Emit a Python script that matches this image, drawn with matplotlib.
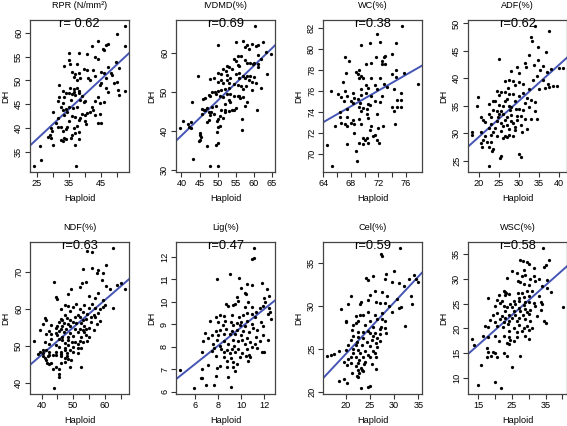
import numpy as np
import matplotlib
matplotlib.use("Agg")
import matplotlib.pyplot as plt

plt.rcParams["font.family"] = ["Liberation Sans", "DejaVu Sans"]

# panel titles, correlation labels and fitted lines (slope, intercept)
titles = ["RPR (N/mm²)", "IVDMD(%)", "WC(%)", "ADF(%)",
          "NDF(%)", "Lig(%)", "Cel(%)", "WSC(%)"]
r_labels = ["r= 0.62", "r=0.69", "r=0.38", "r=0.62",
            "r=0.63", "r=0.47", "r=0.59", "r=0.58"]
fits = [(0.629, 21.98), (0.894, 3.12), (0.376, 48.94), (0.658, 16.2),
        (0.743, 17.87), (0.41, 4.76), (0.60, 12.43), (0.601, 7.67)]

# axis ticks (major = labelled, minor = unlabelled marks)
x_ticks = [[25, 35, 45], [40, 45, 50, 55, 60, 65], [64, 68, 72, 76], [20, 25, 30, 35, 40],
           [40, 50, 60], [6, 8, 10, 12], [20, 25, 30, 35], [15, 25, 35]]
x_minor = [[30, 40, 50], [], [66, 70, 74], [], [45, 55, 65], [], [], [20, 30, 40]]
y_ticks = [[35, 40, 45, 50, 55, 60], [30, 40, 50, 60], [70, 72, 74, 76, 78, 80, 82],
           [25, 30, 35, 40, 45, 50], [40, 50, 60, 70], [6, 7, 8, 9, 10, 11, 12],
           [20, 25, 30, 35], [10, 15, 20, 25, 30, 35]]

# Haploid (x) vs DH (y) values
rpr = [(52.5, 61.5), (50, 59.7), (52.5, 57.3), (44, 58.2), (42, 57.3), (46.5, 57.5), (47, 57.7),
       (45.5, 56.5), (46, 56.3), (35, 55.8), (38.2, 55.8), (40.5, 55.5), (43, 55), (44, 54.5),
       (49.5, 53.8), (47, 52.8), (35, 54.2), (35.3, 53.5), (33.5, 53), (37.5, 53.5), (39.5, 52.5),
       (40.5, 52.3), (42.5, 52.3), (43, 51), (45, 51.7), (46, 51.5), (48, 51.5), (48.5, 51.2),
       (50.5, 52.6), (46.5, 50.5), (36, 51.8), (37, 51.3), (38, 51.5), (36.5, 50.8), (38.5, 50.5),
       (37.5, 50), (41, 50.5), (41.5, 50), (45, 49.5), (44.5, 49), (46.5, 48.5), (47, 47.6),
       (50, 49.7), (50.3, 48), (50.5, 47), (52.5, 47.8), (49, 49.5), (32, 49), (35.2, 48.5),
       (36.5, 48.2), (37.5, 48.4), (38, 47.8), (36.5, 47.5), (34, 47.4), (33, 47.7), (33.5, 46.5),
       (32, 46.5), (35, 47.3), (36, 47.2), (37, 47), (38, 47.4), (39, 46.7), (38.5, 46),
       (39.5, 45.5), (40, 45.8), (35.5, 46), (31.5, 45.8), (33, 45.2), (32.5, 44.5), (35, 44.5),
       (34, 44), (36.3, 44.3), (37.5, 44.5), (43, 45.8), (44, 46.5), (44.5, 45.3), (46, 45.5),
       (42, 44.5), (42.5, 43.8), (44.5, 43), (43, 42.8), (41.5, 43.5), (40.5, 43.2), (40, 42.8),
       (39, 43), (34.5, 43.5), (33, 43.8), (33.3, 42.7), (30, 43.4), (31.5, 42.2), (31, 41),
       (29.5, 40), (29.8, 39.5), (31.5, 40.3), (32.5, 40.2), (33, 39.5), (34, 39.8), (34.5, 40.3),
       (35, 41.5), (36, 42.5), (37, 42.3), (38, 41.8), (38.5, 42.2), (37.5, 40.5), (36.5, 40),
       (37, 38.9), (38, 39.2), (36, 38.5), (35.5, 38), (33.5, 38), (32.5, 37.5), (33, 37.3),
       (34, 37.7), (38, 37.7), (37, 36.5), (29, 38.5), (28.5, 38.2), (29.5, 38), (30, 36.5),
       (26, 36.3), (26.2, 33.3), (37.2, 32), (24, 32), (44, 41), (44.8, 41.1), (40, 41.5),
       (40.2, 40.8)]

ivdmd = [(60.3, 67), (50, 62), (55, 62.8), (57, 63), (58, 62), (59.5, 62.2), (61, 62), (60.7, 61.8),
         (62.5, 62.8), (57.5, 61.5), (58.5, 61), (55.5, 59.3), (56.5, 59.2), (54.5, 58.5), (55, 58),
         (57.5, 58.2), (59, 57.5), (60, 57.5), (61, 57.2), (59.8, 57.2), (58, 57.5), (61.2, 59.5),
         (64.8, 59.7), (63.2, 60.3), (62, 58.5), (61, 56.5), (55.5, 57), (56, 56.8), (53, 56.3),
         (52.5, 56.8), (51.5, 56), (54, 56), (52.2, 55.3), (50, 55), (49, 53.5), (48, 53.3),
         (44.5, 54), (52.5, 54.3), (51, 54.5), (55, 54.5), (56, 54.8), (57, 54), (58, 54.2),
         (59, 54), (60, 53.8), (56, 53.5), (57.5, 53.5), (58.5, 53), (53.5, 53.5), (52.5, 53.2),
         (51, 53), (50, 52.5), (51.5, 52.3), (53.2, 52.3), (54.5, 52), (55.5, 51.7), (56.5, 51.5),
         (57.8, 51.5), (59.5, 52.5), (60.5, 52.2), (63.5, 54.5), (62, 51), (59.5, 50.5), (57, 50.7),
         (53, 51), (52, 50.8), (51, 50.6), (50.2, 50.2), (49.2, 50), (48.5, 50), (47.5, 49.3),
         (46.5, 48.5), (48, 49), (49.5, 49.5), (50.5, 49), (51.5, 48.8), (52.5, 49.5), (53.5, 49.5),
         (54.5, 49), (55.5, 49), (56.2, 48.5), (57, 48.8), (58, 47.5), (57.5, 46.5), (53, 48),
         (52, 47), (53.5, 47.5), (55, 46), (54.5, 45.5), (51, 45.5), (53, 45.2), (52, 44.8),
         (49.5, 46.5), (48.5, 46.2), (47, 46), (46.5, 45.5), (45.7, 45.8), (46.2, 45.3), (47.5, 45),
         (48.2, 45), (49, 44.5), (47.8, 44.2), (45.8, 44.5), (46, 48.2), (42.8, 47.5), (50.5, 43.8),
         (51.5, 43.5), (50, 43.2), (47.5, 42.8), (49.7, 42.5), (47, 42.3), (40.5, 42.5), (42.5, 42.3),
         (41.8, 41.8), (42, 41), (42.5, 40.8), (39.5, 40.8), (50, 41), (50.5, 41.2), (56.7, 43),
         (60.8, 45.3), (56.7, 40.3), (49.8, 39.8), (45, 39.5), (45.2, 39), (45.5, 38.5), (45, 37.8),
         (44.8, 37.5), (50, 37), (49.5, 36.5), (47, 36.3), (43.2, 33), (48, 31), (50, 31),
         (52, 45.5), (54, 45.3), (56, 49)]

wc = [(75.4, 82.2), (71.8, 81.4), (72.2, 80.6), (69.5, 80.4), (70.8, 80.5), (74.5, 80.5),
      (71.7, 79.2), (67.2, 79.2), (72.8, 79.2), (73, 79.3), (74, 79.5), (67.8, 78.8), (72.5, 78.8),
      (70.2, 78.5), (71, 78.6), (73, 78.5), (72.5, 78.5), (74.6, 78), (69.2, 78), (68.7, 77.8),
      (69, 77.6), (69.5, 77.4), (69.2, 77.2), (67.3, 77.7), (74, 77.6), (75.7, 77.7), (74.5, 77.3),
      (69.8, 77.2), (71, 77.2), (72.3, 77.2), (70.2, 76.5), (70.5, 76.3), (69.5, 76.2), (71.5, 76.5),
      (72.8, 76.6), (73.3, 76.4), (71.8, 76.2), (66.8, 76.8), (65.2, 76), (67.2, 76), (68.3, 75.8),
      (67.5, 75.5), (68.5, 75.3), (69.5, 75.6), (70.2, 75.8), (71, 75.5), (72.5, 75.5), (74.2, 76.2),
      (75.3, 75.8), (77.8, 76.6), (66.2, 75.7), (66.6, 75.4), (67, 75), (68, 75), (68.3, 74.8),
      (69, 75.2), (69.3, 74.8), (70.5, 74.7), (71.5, 75), (72.3, 74.9), (74.7, 75.1), (75.3, 75.1),
      (66.5, 74), (67.5, 74.3), (69.2, 74.5), (69.8, 74.4), (70.3, 74.3), (70.8, 74.6), (69.5, 74.1),
      (70.3, 73.8), (71.8, 73.8), (74.2, 74.1), (74, 74.5), (74.7, 74.5), (75.3, 74.5), (66.5, 73.5),
      (67.5, 73.5), (68.3, 73.2), (69.2, 73.3), (70.5, 73.4), (68, 72.9), (67.2, 72.8), (66.6, 72.9),
      (65.7, 72.6), (67.5, 72.6), (68.5, 72.8), (69.5, 72.8), (71, 72.6), (72, 72.5), (72.7, 72.6),
      (70.8, 72.3), (74.4, 72.8), (68.5, 72), (71.2, 71.7), (69.8, 71.5), (70, 71.3), (70.3, 71.5),
      (71.5, 71.8), (71.8, 71.3), (69.2, 71), (69.7, 70.9), (70.5, 71), (72.1, 71), (67.5, 70.9),
      (64.5, 70.8), (68.7, 70.3), (68.9, 69.3), (65.3, 68.8)]

adf = [(34, 49.6), (37.5, 48.6), (33, 47.5), (33.3, 46.8), (34.8, 45.8), (36.8, 44.8), (32.5, 44.3),
       (25, 43.6), (34.6, 43.4), (31.5, 42.8), (33.8, 42.5), (28, 41.3), (29.5, 42), (31.8, 42),
       (36, 42.2), (37, 41.2), (38, 41.7), (40, 41.9), (41, 41.9), (35.2, 41.5), (30, 41), (34.5, 40.5),
       (26.5, 39.5), (27.5, 39.8), (28.5, 39.5), (30, 39.4), (31, 39), (33.5, 39.8), (36, 39.8),
       (29, 38.8), (27.2, 38.2), (24.5, 37.8), (25.5, 37.6), (26.5, 37.5), (32.5, 38), (35, 38),
       (36.5, 38.2), (38.5, 38.7), (39.5, 38.7), (37.5, 38.5), (37.2, 39), (25, 37), (27.5, 37.2),
       (28.5, 37.1), (31, 37.3), (30, 36.8), (32, 36.5), (27, 36.2), (26.5, 35.9), (23.5, 35.8),
       (24, 35.8), (19.7, 36.7), (29, 35.8), (31.5, 35.6), (33, 36), (34, 35.7), (22.5, 35.3),
       (25, 35.2), (26, 35), (27.5, 35), (28, 34.8), (30, 34.5), (32.5, 34.8), (19.5, 35), (23.5, 34.3),
       (25.5, 34.1), (24.5, 34), (27.7, 34.3), (29.2, 34.5), (31, 34.3), (34, 34), (22.5, 33.5),
       (25, 33.5), (26, 33.6), (28, 33.4), (29.5, 33.2), (23, 33), (24.8, 33), (27, 33), (30.5, 33.1),
       (20.5, 33), (31.5, 32.6), (33, 32.7), (34.5, 32.7), (21, 32.5), (24.5, 32.3), (26.5, 32.5),
       (28, 32.2), (29.5, 32.5), (25.5, 31.9), (23, 31.7), (21.5, 32), (27, 31.6), (28.5, 31.8),
       (29, 31.2), (30.5, 31.6), (22.5, 30.9), (24, 31), (26, 31.3), (27.5, 30.8), (29, 30.6),
       (32, 30.8), (23.5, 30.3), (25.5, 30.5), (30.8, 30.3), (18.3, 30.2), (18.2, 29.7), (20.5, 30.3),
       (21.5, 29.5), (23, 29.7), (24.5, 29.5), (26.5, 29.5), (27.5, 29.7), (28.5, 29.5), (20.5, 28.3),
       (21, 28.8), (22, 28.5), (23, 28.5), (26, 29.2), (27, 29.3), (20.8, 27.6), (22.5, 27.5),
       (23.5, 27.2), (23.3, 26.8), (25.5, 25.8), (25.3, 25.5), (30, 26.3), (30.5, 25.7), (22.5, 24)]

ndf = [(62.5, 76.7), (56, 75.5), (54.5, 75.8), (60.5, 72), (53, 71), (56, 71.2), (58, 70.5),
       (57.5, 69.8), (59.5, 69.8), (59, 68), (43.8, 67.4), (52.8, 67), (54, 67.4), (49.2, 65.5),
       (52, 66), (60.5, 66.2), (64, 66.5), (65, 67), (61.5, 65.5), (66.5, 65.5), (58, 64.5),
       (48.5, 64.2), (44.5, 63.2), (45, 62.8), (55, 63.5), (57, 63), (59.5, 62.5), (51, 61.5),
       (53.5, 61), (56, 61.5), (60, 61.2), (59.5, 60.5), (62.5, 60.3), (47.5, 61.2), (48.5, 60.8),
       (46, 60), (50, 60.5), (52, 60), (55, 60.2), (57, 60.3), (58.5, 60), (49, 59.5), (53, 59.3),
       (58, 59), (54.5, 58.8), (56.5, 58.5), (51.5, 58.5), (47.5, 58.5), (50.5, 58), (52.3, 58),
       (55.5, 58), (57, 57.8), (41, 57.5), (41.5, 57), (46, 57.3), (48, 57.5), (46.5, 57), (49, 57),
       (53, 57), (54, 57.2), (58.5, 56.8), (45.5, 56.5), (47, 56.3), (48.5, 56), (50, 56.5), (51, 56.2),
       (52.5, 56.3), (55.5, 56.5), (57.5, 56), (40.5, 56), (43, 55.8), (45, 55.5), (46.5, 55.3),
       (49, 55.5), (53.5, 55.5), (55, 55), (44.5, 54.8), (46, 54.7), (47.8, 54.5), (50.5, 54.7),
       (52, 54.5), (53, 54.3), (54, 54.5), (56.5, 54.3), (39.5, 54.3), (42.5, 54), (44.5, 53.5),
       (45.5, 54), (47, 53.8), (49, 53.5), (51.5, 53.8), (53.5, 53.8), (41.5, 53.3), (43, 53.2),
       (45, 53), (46.5, 52.5), (48.5, 52.5), (50, 52.8), (52.5, 52.5), (54, 53), (55, 52.5), (43, 52),
       (45.5, 52), (46.5, 51.5), (48.5, 51.5), (52, 51.3), (53, 51), (54.5, 51.3), (37.5, 51.3),
       (41, 51), (42.5, 50.5), (47.5, 50.8), (49.5, 51), (50.5, 51), (48.5, 50.3), (51.5, 50.5),
       (44.5, 50.3), (45.5, 49.7), (47.5, 49.5), (50, 49.7), (51.5, 49.5), (52.5, 49.5), (40.5, 49),
       (41.5, 48.8), (47.5, 48.8), (49, 49), (50, 48.5), (51.5, 48), (42.5, 48.3), (44.5, 48.5),
       (46, 48.5), (48, 48), (39.5, 48.3), (40.5, 48), (42.5, 47.5), (44.5, 47.5), (46, 47.8),
       (39, 47.8), (40.5, 47.3), (42, 47.3), (43.5, 47.5), (48, 47.2), (41, 46.8), (46, 47.2),
       (47.3, 46.8), (48.5, 46.5), (49.3, 46.2), (47.5, 45.7), (41.5, 46.2), (41.8, 45.5), (43, 45.5),
       (42.5, 45), (46, 45.5), (44.5, 44.2), (43.5, 43.7), (45.5, 43.8), (49, 44.3), (52.5, 44.2),
       (45.5, 42.5), (45.5, 41.5), (43.8, 38.5)]

lig = [(11.1, 12.4), (10.9, 11.9), (11.1, 11.95), (9, 11.25), (7.9, 11), (9.8, 11.05), (11.8, 10.85),
       (10.5, 10.8), (10.9, 10.75), (12.2, 10.55), (10, 10.6), (10.3, 10.4), (10.4, 10.35), (9.6, 10.2),
       (12.4, 10.25), (12, 10.15), (9.7, 10.05), (10.6, 10.0), (12.05, 10.0), (9.5, 9.9), (8.7, 9.9),
       (8.9, 9.8), (9.3, 9.85), (10.3, 9.75), (11.3, 9.55), (11.6, 9.7), (10.9, 9.75), (11.9, 9.8),
       (12.4, 9.7), (12.5, 9.55), (10.5, 9.5), (10.9, 9.45), (8.2, 9.4), (7.8, 9.3), (8.5, 9.35),
       (9.2, 9.4), (9.8, 9.3), (10.2, 9.4), (11.2, 9.3), (12.3, 9.45), (12.6, 9.25), (7.3, 9.15),
       (8, 9.1), (8.6, 9.15), (9.1, 9.1), (9.6, 9.05), (10, 9.1), (10.5, 9.15), (10.9, 9.0), (11.7, 9.1),
       (8.4, 8.95), (9.3, 8.95), (9.9, 8.95), (10.3, 8.9), (11, 8.85), (11.9, 8.9), (6.9, 8.6),
       (7.8, 8.7), (8.2, 8.75), (8.7, 8.8), (9.2, 8.7), (9.6, 8.75), (10.2, 8.7), (10.7, 8.65),
       (11.4, 8.75), (7.5, 8.5), (8, 8.5), (8.5, 8.55), (9, 8.55), (9.5, 8.55), (10, 8.5), (10.5, 8.4),
       (11.3, 8.45), (11.9, 8.5), (12.3, 8.3), (7.1, 8.4), (7.9, 8.3), (8.5, 8.25), (9.3, 8.3),
       (9.7, 8.25), (10.1, 8.3), (10.8, 8.2), (11.6, 8.25), (6.7, 8.25), (7.6, 8.1), (8.2, 8.05),
       (8.9, 8.1), (9.4, 8.05), (10.3, 8.1), (10.9, 8.0), (11.2, 8.1), (7.7, 7.95), (8.3, 7.9),
       (8.8, 7.85), (9.2, 7.9), (9.7, 7.9), (10.5, 7.9), (11.4, 7.95), (6.6, 7.75), (7.5, 7.8),
       (8.5, 7.75), (9, 7.7), (9.5, 7.75), (10.1, 7.7), (10.7, 7.65), (11.8, 7.75), (12, 7.75),
       (7.8, 7.6), (8.5, 7.55), (9.1, 7.5), (9.9, 7.55), (10.4, 7.6), (10.8, 7.55), (8.8, 7.35),
       (9.3, 7.3), (9.6, 7.25), (10.6, 7.35), (7.1, 7.2), (8.2, 7.15), (8.8, 7.1), (9.3, 7.1),
       (7.9, 7.05), (9.5, 6.9), (6.6, 7), (4.7, 6.95), (7.8, 6.7), (8.9, 6.65), (6.5, 6.6), (6.6, 6.6),
       (7, 6.3), (7.7, 6.3), (9.1, 6.2), (5.9, 6.15)]

cel = [(31.2, 36.8), (27.2, 36), (27.5, 35.8), (30, 34.1), (28.3, 33.7), (25.5, 33.5), (24.2, 33.3),
       (24.5, 33), (28, 33.1), (29.5, 32.8), (31, 32.7), (32, 32.3), (34, 33.6), (35, 32.8), (33, 33.2),
       (34.5, 33.2), (21, 31.2), (26, 31.7), (25, 31.3), (27.5, 31.6), (28.5, 31.2), (33.5, 31.2),
       (30.5, 30.8), (23.2, 30.5), (24.5, 30.7), (26.2, 30.5), (27, 30.3), (20.5, 30.2), (23, 30.2),
       (28, 30.3), (29, 30), (19, 29.6), (31, 29.8), (31.5, 29.9), (33.6, 30.2), (29.5, 29.3),
       (27.5, 29.2), (24.5, 29.3), (23.5, 29), (23, 28.9), (22, 28.8), (26, 29), (26.5, 28.5),
       (27.5, 28.5), (28, 28.3), (25, 28.2), (20, 28.3), (20, 28.1), (22, 28), (22.5, 28.2),
       (21.5, 27.8), (24, 27.8), (25.5, 27.5), (27, 27.3), (27.2, 27.5), (28, 27.4), (32.2, 27.7),
       (21.2, 27.2), (22.5, 27), (23.5, 27), (24.5, 27.1), (25, 26.8), (26, 26.8), (27, 26.7),
       (28.3, 26.8), (21.5, 26.5), (22.5, 26.4), (23.5, 26.3), (25.5, 26.5), (26.5, 26.3), (21, 26),
       (22.2, 25.8), (24.3, 25.8), (25.3, 26), (26.2, 25.7), (27, 25.9), (20.5, 25.5), (22, 25.4),
       (23.3, 25.5), (25, 25.3), (26.5, 25.2), (21.5, 25), (22.5, 24.9), (24, 24.8), (25.5, 24.7),
       (18.5, 24.8), (20, 24.9), (21.5, 24.5), (23, 24.5), (24.5, 24.3), (26, 24.5), (17.5, 24.4),
       (16.8, 24.3), (16, 24.2), (21, 24.1), (22, 24), (23.5, 24), (25, 24), (26.2, 24), (20.5, 23.8),
       (22.8, 23.7), (24, 23.5), (19.5, 23.5), (21, 23.4), (22.5, 23.3), (23.8, 23.2), (25.3, 23.2),
       (20.3, 23.1), (22, 23), (23.2, 22.8), (22.5, 22.5), (23.5, 22.4), (26.3, 22.6), (21.3, 22.2),
       (22.7, 22.2), (23.4, 22.5), (22.2, 21.8), (22.4, 21.7), (19.5, 21.5), (18.5, 21.3), (20.3, 21),
       (25, 20.7), (24.6, 20.6), (23.1, 20.4)]

wsc = [(34.3, 36.3), (27.5, 33.8), (28.3, 33.7), (29.5, 33.3), (30, 33), (36, 33.8), (31.5, 32.2),
       (35, 32.7), (34.5, 32.4), (25, 31.5), (26.5, 31.2), (28.5, 31.7), (29, 30.8), (31.5, 30.5),
       (33, 30), (32, 29.6), (35.5, 29.7), (23.5, 30.2), (28, 30.5), (30.5, 30), (26.7, 29.5),
       (27.5, 29.3), (28.5, 29), (30, 28.8), (34, 28.5), (35.3, 28.2), (36.5, 27.3), (22.5, 27.5),
       (23, 27.3), (23.3, 27.1), (22.8, 26.8), (24, 27), (26.8, 27.2), (28, 27.2), (29.5, 27.5),
       (31, 27.6), (33, 26.5), (30, 26.5), (28.5, 26.3), (27.2, 26.2), (21, 26.8), (18, 26.2),
       (20.5, 25.8), (22, 25.5), (25.5, 25.5), (27, 25.6), (29, 25.3), (30, 25.4), (31.5, 25.2),
       (33.5, 25.3), (34, 25), (21.5, 25.2), (24.5, 25), (26, 24.9), (28.5, 24.8), (32, 24.5),
       (20, 24.5), (22.5, 24.5), (23.5, 24.3), (25, 24.3), (27, 24.2), (29, 24), (30.5, 23.8),
       (33.5, 23.8), (23, 23.5), (25.7, 23.5), (27.5, 23.5), (29.5, 23.3), (20.5, 23.2), (22, 22.5),
       (24, 22.8), (26, 22.8), (28.3, 22.8), (30, 22.9), (32.5, 22.5), (19.5, 22.7), (23, 22),
       (25, 22.2), (27, 22), (28.8, 21.8), (18.5, 21.7), (21.5, 21.8), (24, 21.5), (22.5, 21.2),
       (26.5, 21.5), (30.5, 21.5), (34.5, 21.5), (35, 21), (20, 21.3), (23.8, 20.8), (27, 20.7),
       (29.5, 20.5), (17, 20.4), (18, 20.3), (20.5, 20.5), (22.2, 20.2), (25.5, 20), (28.5, 20),
       (31, 20), (24, 19.5), (26.5, 19.3), (28, 19.5), (30, 19.7), (13, 17.8), (16.5, 18.5), (18, 18.2),
       (20, 18.4), (22.5, 18.5), (24, 18.3), (26.5, 18.3), (29, 18.4), (30, 17.8), (24.3, 17.7),
       (23.5, 17), (24, 16.8), (21, 17.5), (25.5, 17.5), (13.8, 16.7), (17.5, 16), (17.8, 15.2),
       (19.5, 15.3), (20, 15), (18.7, 14.5), (20.5, 14.3), (17.5, 14.2), (22.5, 15), (23.5, 14.4),
       (27.5, 14.5), (15.7, 12.7), (25, 12.3), (15, 8.5), (20, 9.2), (21.7, 7.9), (40.3, 24.3)]

panels = [rpr, ivdmd, wc, adf, ndf, lig, cel, wsc]

W, H = 567, 426
fig = plt.figure(figsize=(W / 100, H / 100), dpi=100)

lefts = [30, 176, 323, 468]
tops = [20, 242]
aw, ah = 99, 152

for i, pts in enumerate(panels):
    row, col = divmod(i, 4)
    x0 = lefts[col] / W
    y0 = 1 - (tops[row] + ah) / H
    ax = fig.add_axes([x0, y0, aw / W, ah / H])
    pts = np.array(pts)
    ax.scatter(pts[:, 0], pts[:, 1], s=5.5, c="black", marker="o", linewidths=0, zorder=3)
    ax.margins(0.04)
    # freeze the limits so the regression line does not stretch them
    ax.set_xlim(ax.get_xlim())
    ax.set_ylim(ax.get_ylim())
    slope, icpt = fits[i]
    ax.axline((0, icpt), slope=slope, color="#4455b5", lw=1.4, zorder=2)

    ax.set_xticks(x_ticks[i])
    ax.set_xticks(x_minor[i], minor=True)
    ax.set_yticks(y_ticks[i])
    ax.tick_params(axis="both", which="both", direction="out", length=3.5, width=0.8,
                   labelsize=6.6, pad=1.5, color="#333333")
    ax.tick_params(axis="y", labelrotation=90)
    for lab in ax.get_yticklabels():
        lab.set_va("center")
    for sp in ax.spines.values():
        sp.set_color("#444444")
        sp.set_linewidth(0.9)

    ax.text(0.5, 1 + 14.5 / ah, titles[i], transform=ax.transAxes, ha="center", va="center",
            fontsize=6.6)
    ax.set_xlabel("Haploid", fontsize=6.6, va="center")
    ax.xaxis.set_label_coords(0.5, -26.5 / ah)
    ax.set_ylabel("DH", fontsize=6.6, va="center")
    ax.yaxis.set_label_coords(-24.5 / aw, 0.5)
    ax.text(0.5, 0.975, r_labels[i], transform=ax.transAxes, ha="center", va="center",
            fontsize=9.3, zorder=4)

fig.savefig("out.png", dpi=100)
